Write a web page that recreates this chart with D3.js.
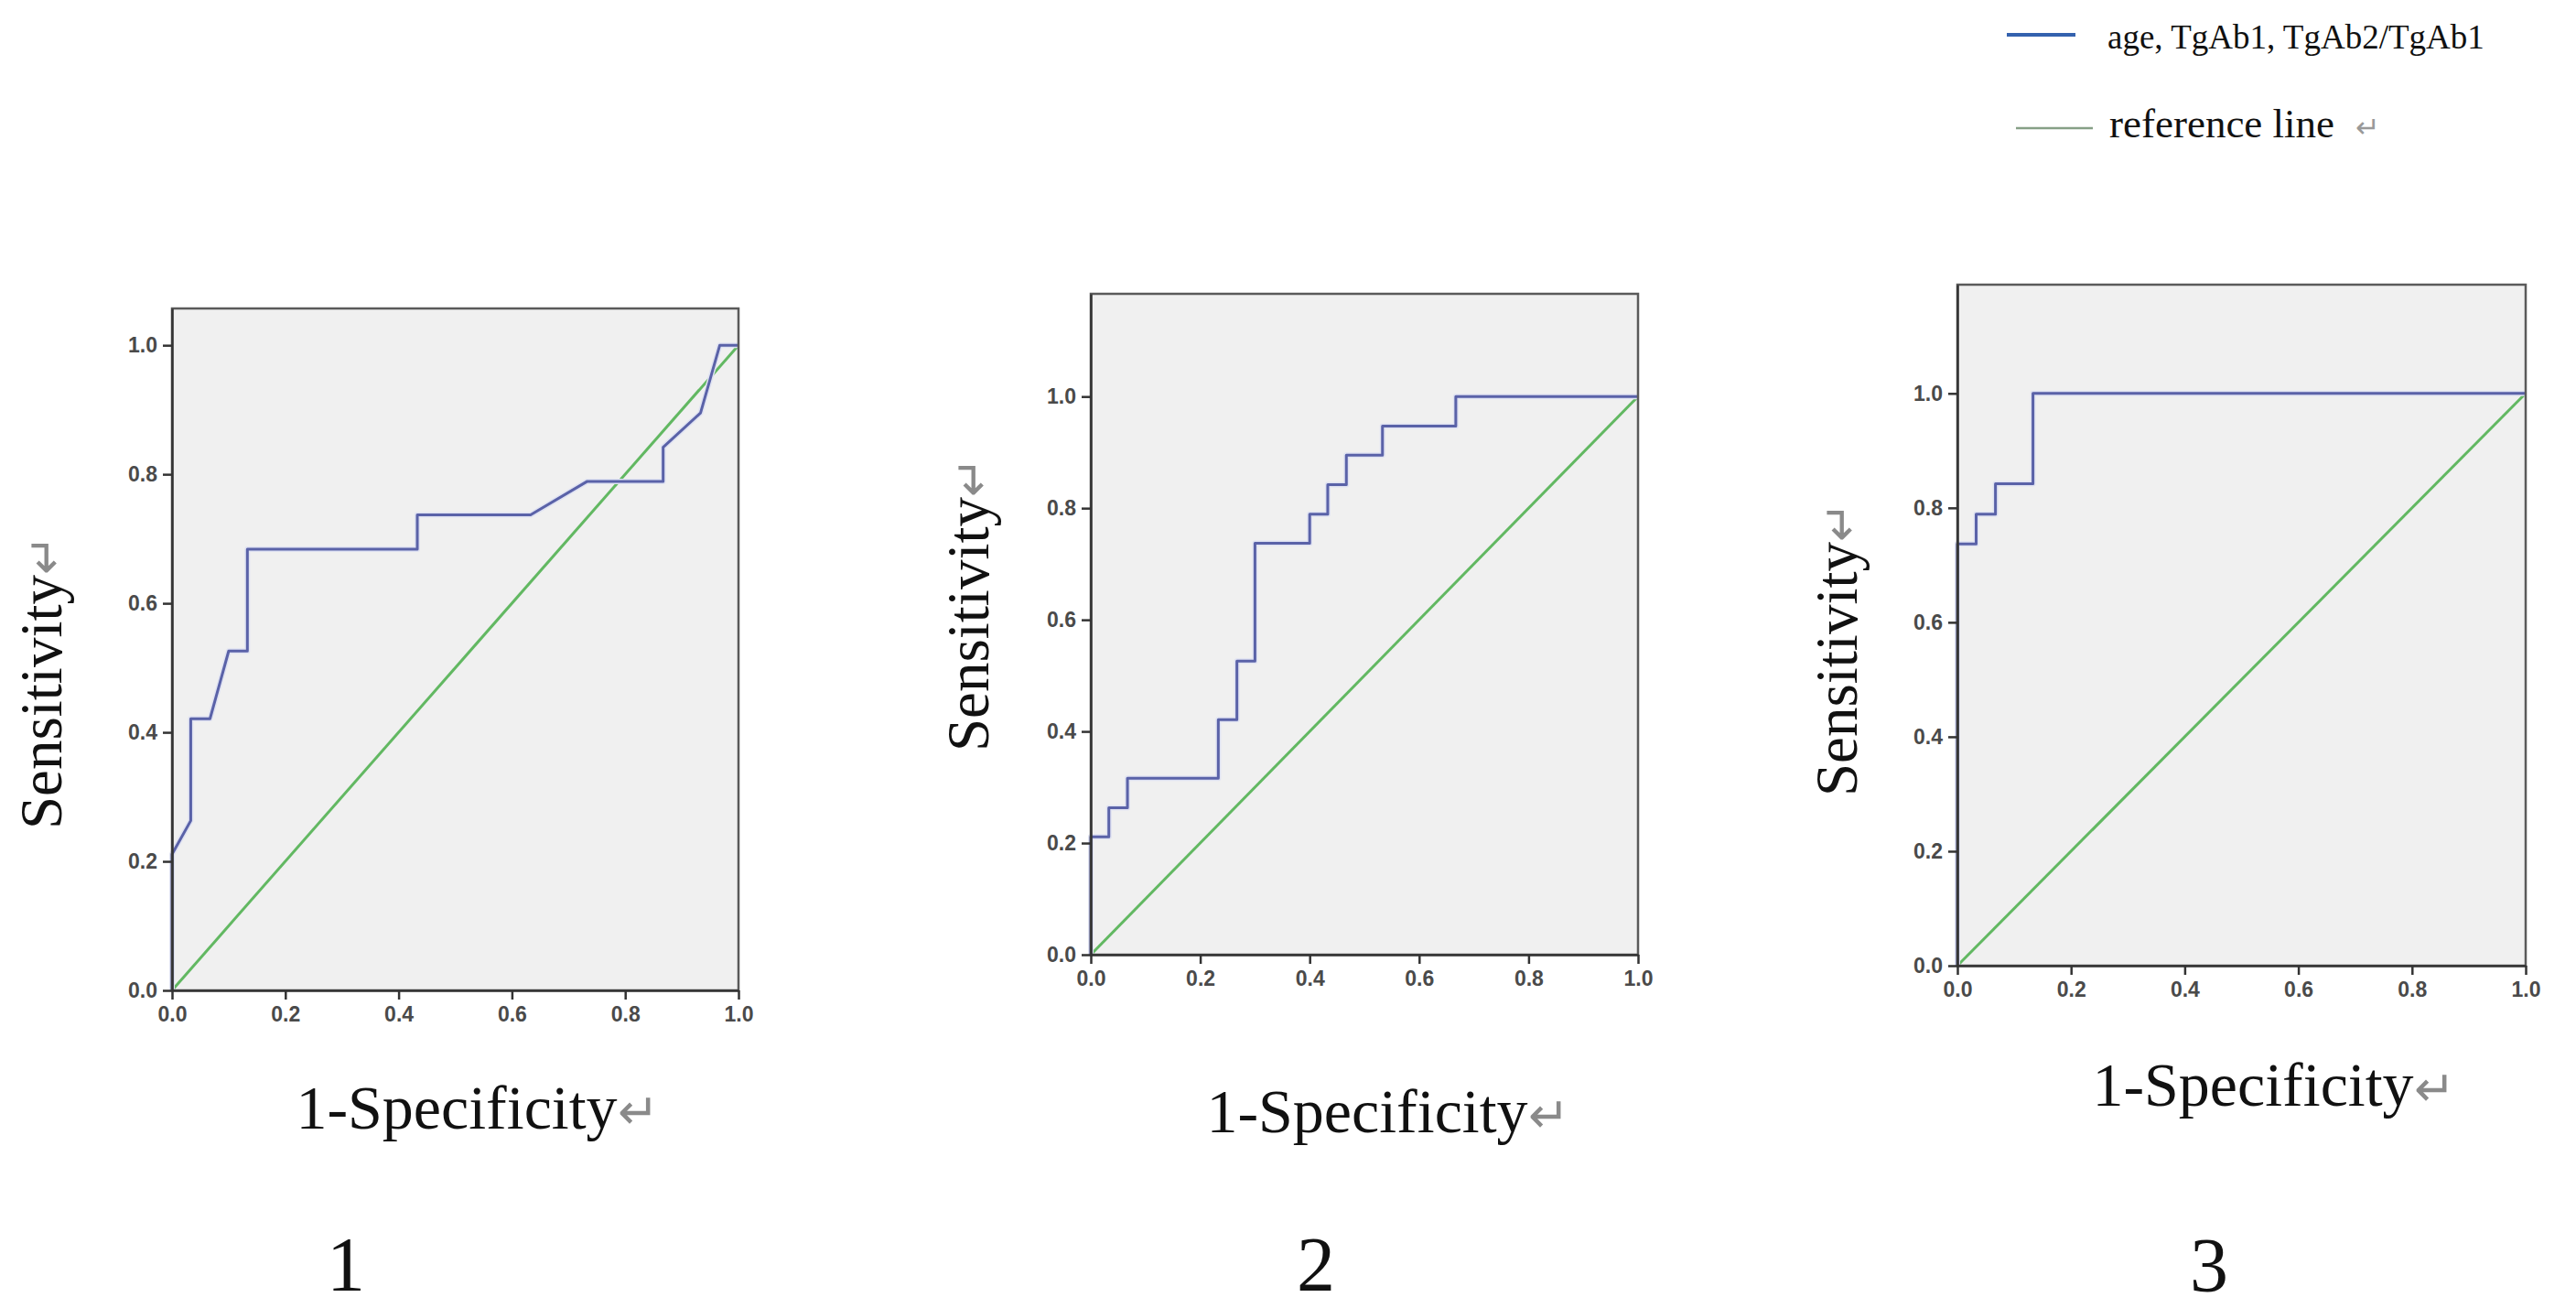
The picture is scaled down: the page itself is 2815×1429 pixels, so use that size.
<!DOCTYPE html>
<html><head><meta charset="utf-8">
<script src="https://cdn.jsdelivr.net/npm/d3@7"></script>
<style>html,body{margin:0;padding:0;background:#fff;} svg{display:block}</style>
</head><body>
<svg id="chart" width="2815" height="1429"></svg>
<script>
// ---------- data ----------
const panelNames = ["1", "2", "3"];
const tickValues = [0.0, 0.2, 0.4, 0.6, 0.8, 1.0];
const xTitle = "1-Specificity";
const yTitle = "Sensitivity";
const returnMark = "\u21B5";
const legendNames = ["age, TgAb1, TgAb2/TgAb1", "reference line"];

const referenceFPR = [0, 1];
const referenceTPR = [0, 1];

const roc1FPR = [0, 0, 0.033, 0.033, 0.067, 0.100, 0.133, 0.133, 0.433, 0.433, 0.633, 0.733, 0.867, 0.867, 0.933, 0.967, 1.0];
const roc1TPR = [0, 0.211, 0.263, 0.421, 0.421, 0.526, 0.526, 0.684, 0.684, 0.737, 0.737, 0.789, 0.789, 0.842, 0.895, 1.0, 1.0];

const roc2FPR = [0, 0, 0.033, 0.033, 0.067, 0.067, 0.233, 0.233, 0.267, 0.267, 0.300, 0.300, 0.400, 0.400, 0.433, 0.433, 0.467, 0.467, 0.533, 0.533, 0.667, 0.667, 1.0];
const roc2TPR = [0, 0.211, 0.211, 0.263, 0.263, 0.316, 0.316, 0.421, 0.421, 0.526, 0.526, 0.737, 0.737, 0.789, 0.789, 0.842, 0.842, 0.895, 0.895, 0.947, 0.947, 1.0, 1.0];

const roc3FPR = [0, 0, 0.033, 0.033, 0.067, 0.067, 0.133, 0.133, 1.0];
const roc3TPR = [0, 0.737, 0.737, 0.789, 0.789, 0.842, 0.842, 1.0, 1.0];

const rocFPR = [roc1FPR, roc2FPR, roc3FPR];
const rocTPR = [roc1TPR, roc2TPR, roc3TPR];
const yDomainMax = [1.057, 1.184, 1.19];

// ---------- layout (positions / styles) ----------
const layout = [
  {x0: 188, x1: 807, yZero: 1082, yTop: 337, xt: [499, 1233], yt: [67, 767], num: [378, 1410]},
  {x0: 1192, x1: 1790, yZero: 1043, yTop: 321, xt: [1494, 1237], yt: [1080, 682], num: [1438, 1410]},
  {x0: 2139, x1: 2760, yZero: 1055, yTop: 311, xt: [2462, 1208], yt: [2029, 731], num: [2414, 1411]}
];
const serif = "'Liberation Serif','Times New Roman',serif";
const sans = "'Liberation Sans',Arial,sans-serif";
const blue = "#5a62a8";
const green = "#62b862";

const svg = d3.select("#chart");
svg.append("rect").attr("width", 2815).attr("height", 1429).attr("fill", "#fff");

function titleWithMark(sel, text, size) {
  sel.append("tspan").attr("class", "main").text(text);
  sel.append("tspan").attr("fill", "#8a8a8a").attr("font-size", size * 0.8).text(returnMark);
}

layout.forEach((L, i) => {
  const x = d3.scaleLinear().domain([0, 1]).range([L.x0, L.x1]);
  const y = d3.scaleLinear().domain([0, yDomainMax[i]]).range([L.yZero, L.yTop]);
  const g = svg.append("g");

  // plot background
  g.append("rect").attr("x", x(0)).attr("y", y(yDomainMax[i]))
    .attr("width", x(1) - x(0)).attr("height", y(0) - y(yDomainMax[i]))
    .attr("fill", "#f0f0f0");

  const line = d3.line().x(d => x(d[0])).y(d => y(d[1]));

  // reference line
  g.append("path").datum(d3.zip(referenceFPR, referenceTPR))
    .attr("d", line).attr("fill", "none").attr("stroke", green).attr("stroke-width", 3);

  // ROC curve
  g.append("path").datum(d3.zip(rocFPR[i], rocTPR[i]))
    .attr("d", line).attr("fill", "none").attr("stroke", "#dfe2f2").attr("stroke-width", 6)
    .attr("stroke-linejoin", "round");
  g.append("path").datum(d3.zip(rocFPR[i], rocTPR[i]))
    .attr("d", line).attr("fill", "none").attr("stroke", blue).attr("stroke-width", 3)
    .attr("stroke-linejoin", "round");

  // frame
  g.append("rect").attr("x", x(0)).attr("y", y(yDomainMax[i]))
    .attr("width", x(1) - x(0)).attr("height", y(0) - y(yDomainMax[i]))
    .attr("fill", "none").attr("stroke", "#5a5a5a").attr("stroke-width", 2.5);

  // axes
  const fmt = d3.format(".1f");
  const xa = g.append("g").attr("transform", `translate(0,${y(0)})`)
    .call(d3.axisBottom(x).tickValues(tickValues).tickSize(10).tickSizeOuter(0).tickPadding(8).tickFormat(fmt));
  const ya = g.append("g").attr("transform", `translate(${x(0)},0)`)
    .call(d3.axisLeft(y).tickValues(tickValues).tickSize(10).tickSizeOuter(0).tickPadding(6).tickFormat(fmt));
  [xa, ya].forEach(a => {
    a.select(".domain").attr("stroke", "#333").attr("stroke-width", 2.5);
    a.selectAll(".tick line").attr("stroke", "#333").attr("stroke-width", 2.5);
    a.selectAll(".tick text").attr("font-family", sans).attr("font-size", 23)
      .attr("fill", "#4a4a4a").attr("font-weight", "bold");
  });

  // x title
  const xt = svg.append("text").attr("font-family", serif).attr("font-size", 68).attr("fill", "#111")
    .attr("y", L.xt[1]);
  titleWithMark(xt, xTitle, 68);
  const xl = xt.select(".main").node().getComputedTextLength();
  xt.attr("x", L.xt[0] - xl / 2);

  // y title
  const ytg = svg.append("g").attr("transform", `translate(${L.yt[0]},${L.yt[1]}) rotate(-90)`);
  const yt = ytg.append("text").attr("font-family", serif).attr("font-size", 65).attr("fill", "#111");
  titleWithMark(yt, yTitle, 65);
  const yl = yt.select(".main").node().getComputedTextLength();
  yt.attr("x", -yl / 2);

  // panel number
  svg.append("text").attr("x", L.num[0]).attr("y", L.num[1]).attr("text-anchor", "middle")
    .attr("font-family", serif).attr("font-size", 84).attr("fill", "#111").text(panelNames[i]);
});

// legend
const lg = svg.append("g");
lg.append("line").attr("x1", 2193).attr("x2", 2268).attr("y1", 38).attr("y2", 38)
  .attr("stroke", "#3462ae").attr("stroke-width", 4);
lg.append("text").attr("x", 2303).attr("y", 53).attr("font-family", serif).attr("font-size", 37)
  .attr("fill", "#111").text(legendNames[0]);
lg.append("line").attr("x1", 2203).attr("x2", 2287).attr("y1", 140).attr("y2", 140)
  .attr("stroke", "#86a086").attr("stroke-width", 2.5);
const rt = lg.append("text").attr("x", 2305).attr("y", 150).attr("font-family", serif).attr("font-size", 45)
  .attr("fill", "#111");
rt.append("tspan").text(legendNames[1] + " ");
rt.append("tspan").attr("fill", "#999").attr("font-size", 32).attr("dx", 12).text(returnMark);
</script>
</body></html>
